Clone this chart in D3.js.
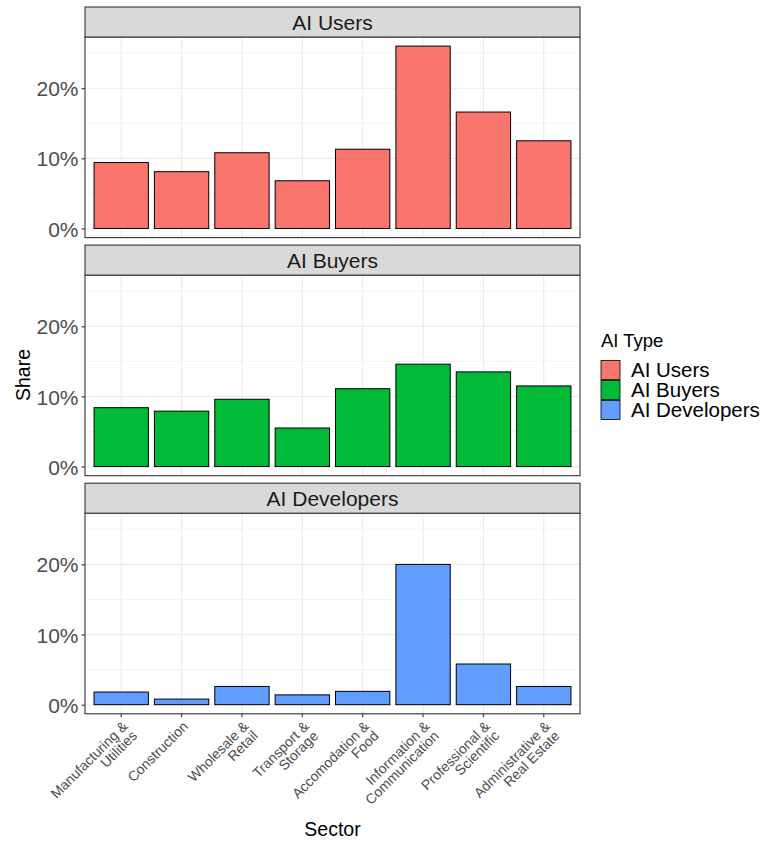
<!DOCTYPE html>
<html>
<head>
<meta charset="utf-8">
<script src="https://cdn.jsdelivr.net/npm/d3@7"></script>
<style>
  body { margin: 0; background: #fff; }
  svg { font-family: "Liberation Sans", Arial, Helvetica, sans-serif; }
</style>
</head>
<body>
<div id="chart"></div>
<script>
const sectors = ["Manufacturing &\nUtilities", "Construction", "Wholesale &\nRetail", "Transport &\nStorage",
  "Accomodation &\nFood", "Information &\nCommunication", "Professional &\nScientific", "Administrative &\nReal Estate"];
const aiTypes = ["AI Users", "AI Buyers", "AI Developers"];
const typeColors = ["#F8766D", "#00BA38", "#619CFF"];
const users = [9.4, 8.1, 10.8, 6.8, 11.3, 26.0, 16.6, 12.5];
const buyers = [8.4, 7.9, 9.6, 5.5, 11.1, 14.6, 13.5, 11.5];
const developers = [1.8, 0.8, 2.6, 1.4, 1.9, 20.0, 5.8, 2.6];
const majorTicks = [0, 10, 20];
const minorTicks = [5, 15, 25];

const series = [users, buyers, developers];

const w = 767, h = 843;
const left = 85, right = 580;
const top0 = 7, stripH = 30, plotH = 200.6, gap = 7.5;

const svg = d3.select('#chart').append('svg')
  .attr('width', w).attr('height', h);

// shared scales
const x = d3.scaleBand()
  .domain(d3.range(sectors.length))
  .range([left, right])
  .paddingInner(0.1)
  .paddingOuter(0.15);

const maxV = d3.max(series.flat());
const ex = maxV * 0.05;

series.forEach((vals, p) => {
  const stripTop = top0 + p * (stripH + plotH + gap);
  const pTop = stripTop + stripH;
  const pBot = pTop + plotH;
  const y = d3.scaleLinear().domain([-ex, maxV + ex]).range([pBot, pTop]);
  const g = svg.append('g');

  // grid
  g.selectAll('.minor').data(minorTicks).enter().append('line')
    .attr('x1', left).attr('x2', right)
    .attr('y1', d => y(d)).attr('y2', d => y(d))
    .attr('stroke', '#EBEBEB').attr('stroke-width', 0.6);
  g.selectAll('.major').data(majorTicks).enter().append('line')
    .attr('x1', left).attr('x2', right)
    .attr('y1', d => y(d)).attr('y2', d => y(d))
    .attr('stroke', '#EBEBEB').attr('stroke-width', 1.1);
  g.selectAll('.vmajor').data(d3.range(sectors.length)).enter().append('line')
    .attr('x1', d => x(d) + x.bandwidth() / 2).attr('x2', d => x(d) + x.bandwidth() / 2)
    .attr('y1', pTop).attr('y2', pBot)
    .attr('stroke', '#EBEBEB').attr('stroke-width', 1.1);

  // bars
  g.selectAll('rect.bar').data(vals).enter().append('rect')
    .attr('class', 'bar')
    .attr('x', (d, i) => x(i))
    .attr('width', x.bandwidth())
    .attr('y', d => y(d))
    .attr('height', d => y(0) - y(d))
    .attr('fill', typeColors[p])
    .attr('stroke', '#000')
    .attr('stroke-width', 1);

  // panel border
  g.append('rect')
    .attr('x', left).attr('y', pTop).attr('width', right - left).attr('height', plotH)
    .attr('fill', 'none').attr('stroke', '#333').attr('stroke-width', 1.1);

  // strip
  g.append('rect')
    .attr('x', left).attr('y', stripTop).attr('width', right - left).attr('height', stripH)
    .attr('fill', '#D9D9D9').attr('stroke', '#333').attr('stroke-width', 1.1);
  g.append('text')
    .attr('x', (left + right) / 2).attr('y', stripTop + stripH / 2 + 8)
    .attr('text-anchor', 'middle')
    .attr('font-size', 21).attr('fill', '#1A1A1A')
    .text(aiTypes[p]);

  // y axis
  const yAxis = d3.axisLeft(y).tickValues(majorTicks).tickSize(3.5).tickPadding(3)
    .tickFormat(d => d + '%');
  const ya = g.append('g').attr('transform', `translate(${left},0)`).call(yAxis);
  ya.select('.domain').remove();
  ya.selectAll('.tick line').attr('stroke', '#333').attr('stroke-width', 1.1);
  ya.selectAll('.tick text')
    .attr('font-size', 21).attr('fill', '#4D4D4D')
    .attr('font-family', '"Liberation Sans", Arial, sans-serif')
    .attr('dy', '0.36em');

  // x axis ticks on last panel
  if (p === series.length - 1) {
    const xa = g.append('g').attr('transform', `translate(0,${pBot})`)
      .call(d3.axisBottom(x).tickSize(3.5).tickFormat(''));
    xa.select('.domain').remove();
    xa.selectAll('.tick line').attr('stroke', '#333').attr('stroke-width', 1.1);
    xa.selectAll('.tick text').remove();
    sectors.forEach((s, i) => {
      const cx = x(i) + x.bandwidth() / 2;
      const t = g.append('text')
        .attr('transform', `translate(${cx},${pBot + 6}) rotate(-45)`)
        .attr('text-anchor', 'end')
        .attr('font-size', 14).attr('fill', '#4D4D4D');
      s.split('\n').forEach((line, k) => {
        t.append('tspan').attr('x', 0)
          .attr('dy', k === 0 ? '0.75em' : '0.95em')
          .text(line);
      });
    });
  }
});

// axis titles
svg.append('text')
  .attr('x', (left + right) / 2).attr('y', 836)
  .attr('text-anchor', 'middle').attr('font-size', 19.5).attr('fill', '#000')
  .text('Sector');
svg.append('text')
  .attr('transform', 'translate(30,375) rotate(-90)')
  .attr('text-anchor', 'middle').attr('font-size', 19.5).attr('fill', '#000')
  .text('Share');

// legend
const lg = svg.append('g');
lg.append('text').attr('x', 601).attr('y', 347)
  .attr('font-size', 18.5).attr('fill', '#000').text('AI Type');
aiTypes.forEach((t, i) => {
  const ky = 360 + i * 20;
  lg.append('rect').attr('x', 601).attr('y', ky + 0.5).attr('width', 19).attr('height', 19)
    .attr('fill', typeColors[i]).attr('stroke', '#000').attr('stroke-width', 0.8);
  lg.append('text').attr('x', 631).attr('y', ky + 17)
    .attr('font-size', 20.5).attr('fill', '#000').text(t);
});
</script>
</body>
</html>
